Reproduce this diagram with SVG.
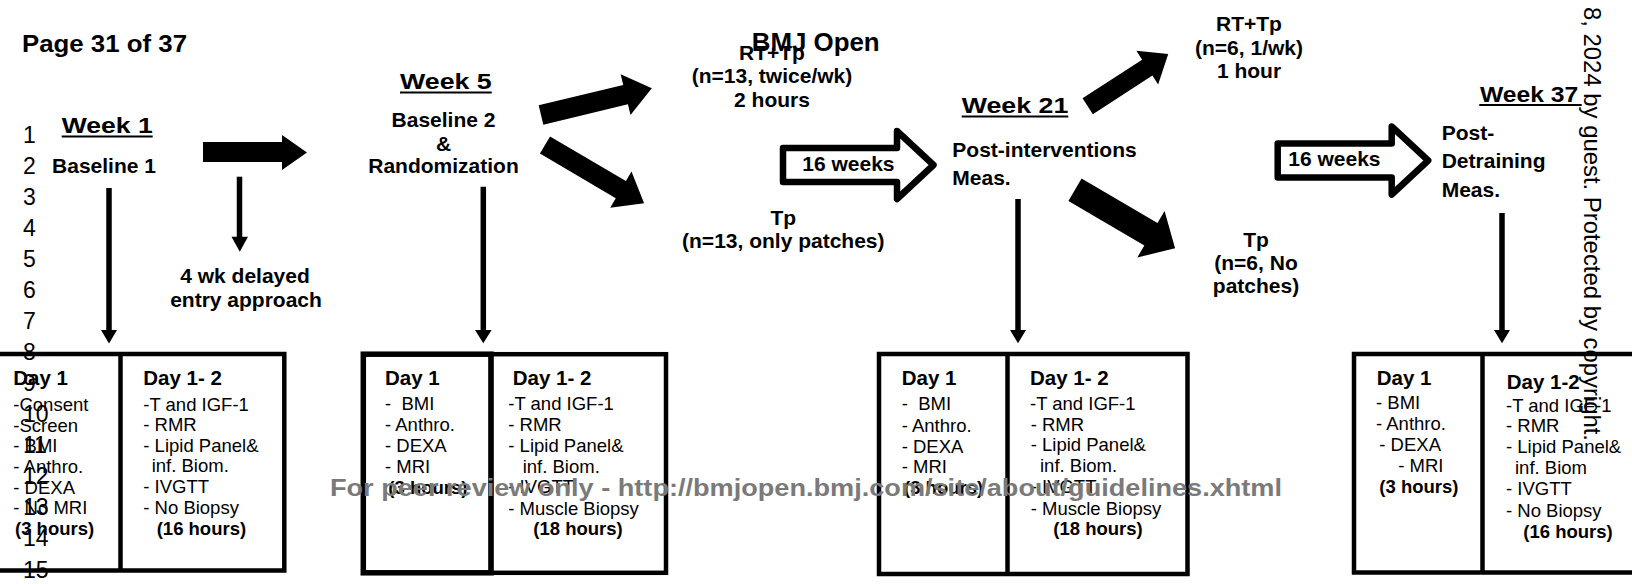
<svg xmlns="http://www.w3.org/2000/svg" width="1632" height="584" viewBox="0 0 1632 584">
  <style>
    text { font-family: "Liberation Sans", Arial, Helvetica, sans-serif; fill: #000; white-space: pre; }
    .lbl { font-size: 21px; font-weight: bold; }
    .wk { font-size: 22.5px; font-weight: bold; }
    .bh { font-size: 20.5px; font-weight: bold; }
    .bt { font-size: 18.5px; }
    .hr { font-size: 18.5px; font-weight: bold; }
    .ln { font-size: 23px; }
    .mid { text-anchor: middle; }
    .box { fill: none; stroke: #000; stroke-width: 4.5; }
    .boxb { fill: none; stroke: #000; stroke-width: 5.5; }
    .shaft { stroke: #000; stroke-width: 5.5; fill: none; }
    .solid { fill: #000; }
    .hollow { fill: #fff; stroke: #000; stroke-width: 6.5; stroke-linejoin: round; }
    .ul { stroke: #000; stroke-width: 2; }
    .wm { font-size: 24px; font-weight: bold; fill: #7a7a7a; }
    .side { font-size: 24px; }
  </style>
  <rect width="1632" height="584" fill="#fff"/>

  <!-- page header -->
  <g id="header">
    <text x="22" y="51.7" font-size="24.5" font-weight="bold" textLength="165" lengthAdjust="spacingAndGlyphs">Page 31 of 37</text>
    <text x="751.7" y="50.7" font-size="26" font-weight="bold" textLength="128" lengthAdjust="spacingAndGlyphs">BMJ Open</text>
  </g>

  <!-- line numbers -->
  <g id="line-numbers" class="ln">
    <text x="23" y="142.5">1</text>
    <text x="23" y="173.6">2</text>
    <text x="23" y="204.6">3</text>
    <text x="23" y="235.7">4</text>
    <text x="23" y="266.8">5</text>
    <text x="23" y="297.9">6</text>
    <text x="23" y="328.9">7</text>
    <text x="23" y="360">8</text>
    <text x="23" y="391.1">9</text>
    <text x="23" y="422.1">10</text>
    <text x="23" y="453.2">11</text>
    <text x="23" y="484.3">12</text>
    <text x="23" y="515.3">13</text>
    <text x="23" y="546.4">14</text>
    <text x="23" y="577.5">15</text>
  </g>

  <!-- connectors -->
  <g id="connectors">
    <!-- vertical drops to the measurement boxes -->
    <line class="shaft" x1="109" y1="188" x2="109" y2="332"/>
    <polygon class="solid" points="101,330 117,330 109,343.5"/>
    <line class="shaft" x1="239.5" y1="176.7" x2="239.5" y2="238"/>
    <polygon class="solid" points="231.5,236.7 248,236.7 239.8,251.7"/>
    <line class="shaft" x1="483.3" y1="186.7" x2="483.3" y2="332"/>
    <polygon class="solid" points="475,330 491.6,330 483.3,343.3"/>
    <line class="shaft" x1="1018" y1="199" x2="1018" y2="332"/>
    <polygon class="solid" points="1010,330 1026,330 1018,343.3"/>
    <line class="shaft" x1="1502" y1="213" x2="1502" y2="332"/>
    <polygon class="solid" points="1494,330 1510,330 1502,343.3"/>

    <!-- block arrows -->
    <polygon class="solid" points="203,142 282,142 282,135 307,152.5 282,170 282,162 203,162"/>
    <polygon class="solid" transform="translate(541,115) rotate(-13.56)" points="0,-10 87,-10 87,-21 114,0 87,21 87,10 0,10"/>
    <polygon class="solid" transform="translate(545,145) rotate(30.49)" points="0,-10 88,-10 88,-21 115,0 88,21 88,10 0,10"/>
    <polygon class="solid" transform="translate(1087.7,106.3) rotate(-32.98)" points="0,-9.5 71,-9.5 71,-20 96,0 71,20 71,9.5 0,9.5"/>
    <polygon class="solid" transform="translate(1075,189.7) rotate(30.37)" points="0,-13 88,-13 88,-27 116,0 88,27 88,13 0,13"/>

    <!-- hollow duration arrows -->
    <polygon class="hollow" points="783,148 897,148 897,131 933.5,165 897,199 897,182 783,182"/>
    <text class="lbl" x="802.3" y="170.7">16 weeks</text>
    <polygon class="hollow" points="1277.7,143.5 1391.7,143.5 1391.7,126.5 1428.2,160.5 1391.7,194.5 1391.7,177.5 1277.7,177.5"/>
    <text class="lbl" x="1288.3" y="166">16 weeks</text>
  </g>

  <!-- Week 1 -->
  <g id="week1">
    <text class="wk" x="61.7" y="133.3" textLength="91" lengthAdjust="spacingAndGlyphs">Week 1</text>
    <line class="ul" x1="61.7" y1="136.5" x2="152.7" y2="136.5"/>
    <text class="lbl mid" x="104" y="172.7">Baseline 1</text>
  </g>

  <g id="delayed-entry">
    <text class="lbl mid" x="245" y="283.3">4 wk delayed</text>
    <text class="lbl mid" x="246" y="306.5">entry approach</text>
  </g>

  <!-- Week 5 -->
  <g id="week5">
    <text class="wk" x="400" y="89.3" textLength="91.7" lengthAdjust="spacingAndGlyphs">Week 5</text>
    <line class="ul" x1="400" y1="92.5" x2="491.7" y2="92.5"/>
    <text class="lbl mid" x="443.5" y="127.3">Baseline 2</text>
    <text class="lbl mid" x="443.5" y="150.7">&amp;</text>
    <text class="lbl mid" x="443.5" y="173.3">Randomization</text>
  </g>

  <g id="group-rt-tp-a">
    <text class="lbl mid" x="772" y="60">RT+Tp</text>
    <text class="lbl mid" x="772" y="83.3">(n=13, twice/wk)</text>
    <text class="lbl mid" x="772" y="106.7">2 hours</text>
  </g>

  <g id="group-tp-a">
    <text class="lbl mid" x="783.3" y="225">Tp</text>
    <text class="lbl mid" x="783.3" y="248.3">(n=13, only patches)</text>
  </g>

  <!-- Week 21 -->
  <g id="week21">
    <text class="wk" x="961.7" y="113.3" textLength="106.6" lengthAdjust="spacingAndGlyphs">Week 21</text>
    <line class="ul" x1="961.7" y1="116.5" x2="1068.3" y2="116.5"/>
    <text class="lbl" x="952.3" y="156.7">Post-interventions</text>
    <text class="lbl" x="952.3" y="185">Meas.</text>
  </g>

  <g id="group-rt-tp-b">
    <text class="lbl mid" x="1249" y="31">RT+Tp</text>
    <text class="lbl mid" x="1249" y="54.5">(n=6, 1/wk)</text>
    <text class="lbl mid" x="1249" y="78">1 hour</text>
  </g>

  <g id="group-tp-b">
    <text class="lbl mid" x="1256" y="247">Tp</text>
    <text class="lbl mid" x="1256" y="270">(n=6, No</text>
    <text class="lbl mid" x="1256" y="293">patches)</text>
  </g>

  <!-- Week 37 -->
  <g id="week37">
    <text class="wk" x="1480" y="101.7" textLength="98.3" lengthAdjust="spacingAndGlyphs">Week 37</text>
    <line class="ul" x1="1479.3" y1="105" x2="1581.7" y2="105"/>
    <text class="lbl" x="1441.7" y="140">Post-</text>
    <text class="lbl" x="1441.7" y="168.3">Detraining</text>
    <text class="lbl" x="1441.7" y="196.7">Meas.</text>
  </g>

  <!-- measurement boxes -->
  <g id="box-week1">
    <rect class="box" x="-8" y="354" width="292.3" height="216.5"/>
    <line class="box" x1="120.5" y1="354" x2="120.5" y2="570.5"/>
    <text class="bh" x="13.3" y="385">Day 1</text>
    <text class="bt"><tspan x="13.3" y="411">-Consent</tspan><tspan x="13.3" y="431.7">-Screen</tspan><tspan x="13.3" y="452.3">- BMI</tspan><tspan x="13.3" y="472.7">- Anthro.</tspan><tspan x="13.3" y="493.5">- DEXA</tspan><tspan x="13.3" y="514.3">- No MRI</tspan></text>
    <text class="hr" x="15" y="535">(3 hours)</text>
    <text class="bh" x="143.3" y="385">Day 1- 2</text>
    <text class="bt"><tspan x="143.3" y="410.5">-T and IGF-1</tspan><tspan x="143.3" y="431">- RMR</tspan><tspan x="143.3" y="451.5">- Lipid Panel&amp;</tspan><tspan x="151.7" y="472">inf. Biom.</tspan><tspan x="143.3" y="493">- IVGTT</tspan><tspan x="143.3" y="514">- No Biopsy</tspan></text>
    <text class="hr" x="156.7" y="534.5">(16 hours)</text>
  </g>

  <g id="box-week5">
    <rect class="box" x="491" y="354.2" width="175" height="218.6"/>
    <rect class="boxb" x="363.3" y="354.2" width="127.7" height="218.6"/>
    <text class="bh" x="385" y="385">Day 1</text>
    <text class="bt"><tspan x="385" y="410">-  BMI</tspan><tspan x="385" y="431.3">- Anthro.</tspan><tspan x="385" y="452">- DEXA</tspan><tspan x="385" y="473">- MRI</tspan></text>
    <text class="hr" x="388.3" y="494">(3 hours)</text>
    <text class="bh" x="512.7" y="385">Day 1- 2</text>
    <text class="bt"><tspan x="508.3" y="410">-T and IGF-1</tspan><tspan x="508.3" y="431">- RMR</tspan><tspan x="508.3" y="451.7">- Lipid Panel&amp;</tspan><tspan x="522.7" y="472.5">inf. Biom.</tspan><tspan x="508.3" y="493.3">- IVGTT</tspan><tspan x="508.3" y="514.5">- Muscle Biopsy</tspan></text>
    <text class="hr" x="533.3" y="535">(18 hours)</text>
  </g>

  <g id="box-week21">
    <rect class="box" x="879" y="354" width="308.5" height="220"/>
    <line class="box" x1="1007.5" y1="354" x2="1007.5" y2="574"/>
    <text class="bh" x="901.7" y="385">Day 1</text>
    <text class="bt"><tspan x="901.7" y="410">-  BMI</tspan><tspan x="901.7" y="431.5">- Anthro.</tspan><tspan x="901.7" y="452.5">- DEXA</tspan><tspan x="901.7" y="473.3">- MRI</tspan></text>
    <text class="hr" x="904" y="494">(3 hours)</text>
    <text class="bh" x="1030" y="385">Day 1- 2</text>
    <text class="bt"><tspan x="1030" y="410">-T and IGF-1</tspan><tspan x="1030.7" y="430.5">- RMR</tspan><tspan x="1030.7" y="451">- Lipid Panel&amp;</tspan><tspan x="1040" y="471.7">inf. Biom.</tspan><tspan x="1030.7" y="493.3">- IVGTT</tspan><tspan x="1030.7" y="515">- Muscle Biopsy</tspan></text>
    <text class="hr" x="1053.3" y="535">(18 hours)</text>
  </g>

  <g id="box-week37">
    <rect class="box" x="1354" y="354" width="296" height="218.5"/>
    <line class="box" x1="1482.5" y1="354" x2="1482.5" y2="572.5"/>
    <text class="bh" x="1376.7" y="385">Day 1</text>
    <text class="bt"><tspan x="1376" y="409.3">- BMI</tspan><tspan x="1376" y="430">- Anthro.</tspan><tspan x="1379.3" y="450.7">- DEXA</tspan><tspan x="1398.3" y="471.7">- MRI</tspan></text>
    <text class="hr" x="1379.3" y="493.3">(3 hours)</text>
    <text class="bh" x="1506.7" y="389">Day 1-2</text>
    <text class="bt"><tspan x="1506" y="411.7">-T and IGF-1</tspan><tspan x="1506" y="432.3">- RMR</tspan><tspan x="1506" y="452.7">- Lipid Panel&amp;</tspan><tspan x="1515" y="474">inf. Biom</tspan><tspan x="1506" y="495">- IVGTT</tspan><tspan x="1506" y="516.7">- No Biopsy</tspan></text>
    <text class="hr" x="1523.3" y="538.3">(16 hours)</text>
  </g>

  <!-- page overlays -->
  <g id="page-marks">
    <text class="wm" x="330" y="496" textLength="952" lengthAdjust="spacingAndGlyphs">For peer review only - http://bmjopen.bmj.com/site/about/guidelines.xhtml</text>
    <text class="side" transform="translate(1584,7) rotate(90)" textLength="434" lengthAdjust="spacingAndGlyphs">8, 2024 by guest. Protected by copyright.</text>
  </g>
</svg>
